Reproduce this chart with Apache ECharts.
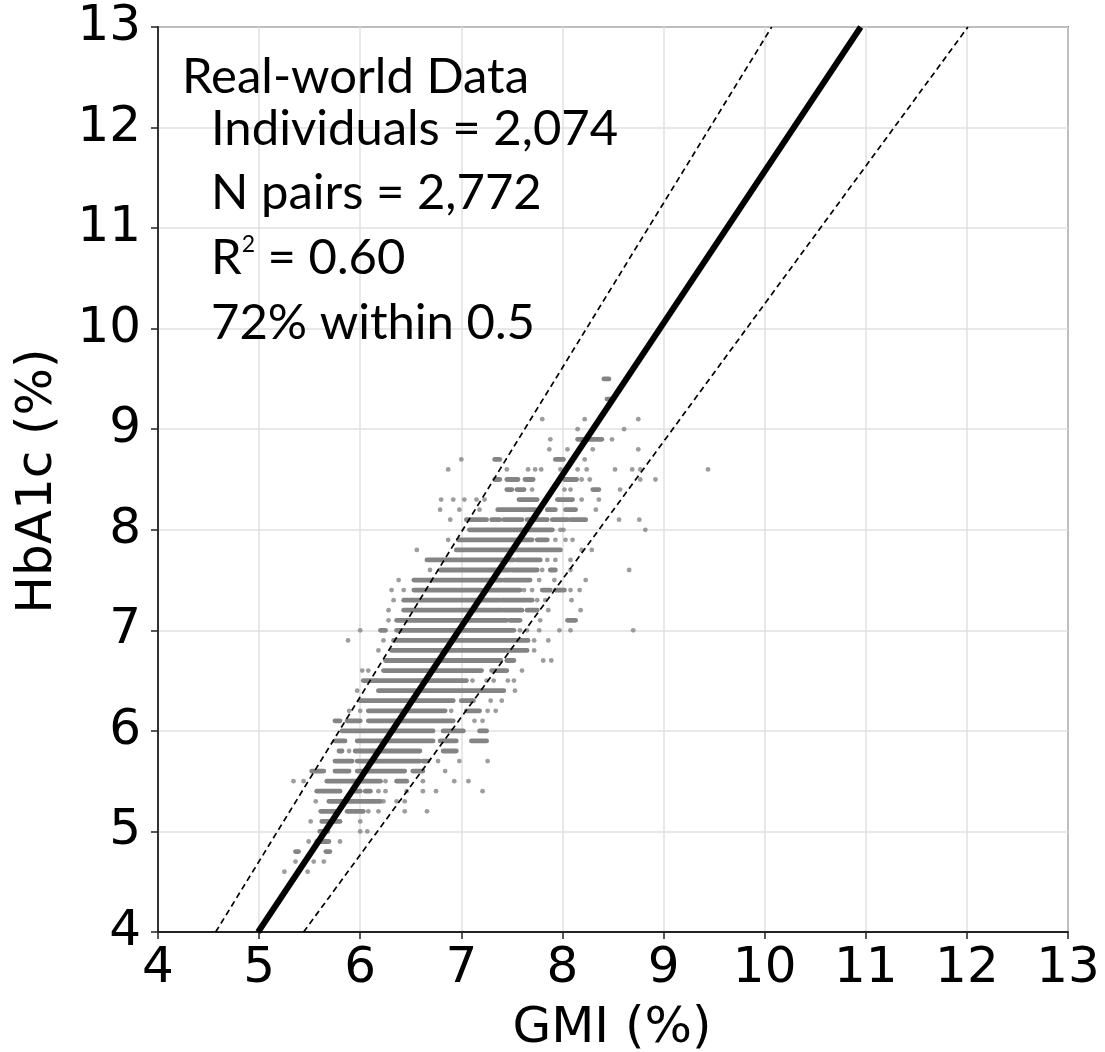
<!DOCTYPE html>
<html>
<head>
<meta charset="utf-8">
<script src="https://cdn.jsdelivr.net/npm/echarts/dist/echarts.min.js"></script>
<style>
html,body{margin:0;padding:0;background:#ffffff;}
#chart{width:1105px;height:1052px;}
</style>
</head>
<body>
<div id="chart"></div>
<script>
// ---------------- DATA ----------------
const xTicks = [4, 5, 6, 7, 8, 9, 10, 11, 12, 13];
const yTicks = [4, 5, 6, 7, 8, 9, 10, 11, 12, 13];

// HbA1c levels (rows of the scatter, reported in 0.1 % steps)
const hba1cRows = [9.5, 9.3, 9.1, 9.0, 8.9, 8.8, 8.7, 8.6, 8.5, 8.4, 8.3, 8.2, 8.1, 8.0,
  7.9, 7.8, 7.7, 7.6, 7.5, 7.4, 7.3, 7.2, 7.1, 7.0, 6.9, 6.8, 6.7, 6.6, 6.5, 6.4, 6.3,
  6.2, 6.1, 6.0, 5.9, 5.8, 5.7, 5.6, 5.5, 5.4, 5.3, 5.2, 5.1, 5.0, 4.9, 4.8, 4.7, 4.6];

// GMI values for each HbA1c row: a number is a single point,
// a pair [from, to] is a dense run of overlapping points
const gmiByRow = [
  [[8.41, 8.46]],
  [[8.44, 8.48]],
  [7.80, 8.22, 8.75],
  [8.15, 8.61],
  [7.88, [8.15, 8.39], 8.49],
  [7.87, 8.05, 8.30, 8.75],
  [7.00, [7.33, 7.38], [7.93, 8.01], 8.22],
  [6.87, 7.45, 7.66, 7.73, 7.79, 7.98, 8.15, 8.24, 8.52, 8.69, 8.77, 9.44],
  [[7.33, 7.38], [7.45, 7.56], [7.63, 7.71], [8.02, 8.14], 8.19, 8.27, 8.77, 8.92],
  [[7.45, 7.50], [7.55, 7.62], 7.70, 8.02, 8.08, [8.30, 8.36], 8.57],
  [6.80, 6.92, 7.03, 7.15, 7.23, [7.57, 7.75], 7.84, [7.95, 8.10], 8.19, 8.36],
  [6.79, 6.98, 7.18, [7.36, 7.74], [7.85, 7.93], [8.03, 8.13], 8.33],
  [6.89, [7.05, 7.25], [7.30, 7.38], [7.42, 7.60], [7.65, 7.85], [7.90, 8.05], [8.08, 8.23], 8.56, 8.76],
  [[7.08, 7.90], 7.98, 8.01, 8.82],
  [6.87, [6.97, 7.55], [7.58, 7.70], [7.75, 7.85], 7.93, 8.03, 8.10],
  [6.56, [6.95, 7.98], 8.19, 8.29],
  [[6.66, 7.52], [7.55, 7.78], 7.85, 7.93, 8.08],
  [6.69, [6.79, 7.48], [7.50, 7.75], 7.80, [7.88, 7.93], 8.08, 8.66],
  [6.38, [6.53, 7.40], [7.42, 7.68], 7.77, 7.92, 8.23],
  [6.31, 6.43, [6.53, 7.20], [7.22, 7.58], 7.62, 7.70, [7.80, 7.88], [7.93, 8.02], 8.08, 8.17],
  [6.33, [6.43, 7.38], [7.40, 7.70], 7.75, 7.83, 8.09],
  [6.28, [6.43, 7.40], [7.42, 7.60], [7.65, 7.75], 7.86, 8.18],
  [6.28, [6.36, 7.45], [7.48, 7.58], 7.78, [8.05, 8.13]],
  [6.00, [6.20, 6.25], [6.36, 7.52], 7.58, 7.65, 7.77, 7.97, 8.08, 8.70],
  [5.88, 6.23, [6.33, 7.66], 7.72, 7.86],
  [6.18, [6.31, 7.65], 7.72],
  [[6.25, 7.39], [7.45, 7.52], 7.81, 7.89],
  [6.02, 6.08, [6.23, 7.20], [7.30, 7.45], 7.60],
  [[6.03, 7.05], 7.11, 7.25, 7.32, 7.46, 7.52],
  [5.97, [6.18, 7.42], 7.53],
  [[6.00, 6.92], [7.00, 7.12], 7.29, 7.40],
  [5.89, 6.00, [6.08, 6.84], 6.90, [7.05, 7.18], 7.26, 7.34],
  [[5.75, 5.80], [5.87, 6.00], [6.08, 6.92], 7.13, 7.21],
  [[5.82, 6.72], [6.82, 7.02], [7.18, 7.25]],
  [[5.75, 5.85], [5.97, 6.72], [6.79, 6.95], [7.10, 7.25]],
  [[5.79, 5.82], 5.89, [5.95, 6.59], [6.82, 6.95]],
  [[5.75, 5.92], [5.97, 6.59], [6.62, 6.67], 6.77, 6.98, 7.26],
  [[5.52, 5.64], [5.75, 5.89], [5.97, 6.44], [6.52, 6.62], 6.84],
  [5.34, 5.44, [5.67, 6.20], 6.25, [6.36, 6.46], 6.62, 6.93, 7.07],
  [[5.57, 5.80], [5.92, 6.00], [6.05, 6.10], 6.18, 6.25, 6.46, 6.62, 6.75, 7.21],
  [5.56, [5.69, 6.20], 6.23, 6.36, 6.44],
  [[5.61, 5.79], [5.87, 6.03], 6.08, 6.18, 6.44, 6.66],
  [5.51, [5.62, 5.80], 6.00],
  [[5.60, 5.68], 6.00, 6.07],
  [5.49, [5.57, 5.69], 5.80],
  [[5.36, 5.39], [5.66, 5.70]],
  [5.36, 5.54, 5.64],
  [5.25, 5.48]
];

// Regression line and limits: [GMI, HbA1c] end points
const fitLine = [[4.99, 4.0], [10.95, 13.0]];
const upperLimit = [[4.57, 4.0], [10.07, 13.0]];
const lowerLimit = [[5.44, 4.0], [12.01, 13.0]];

const annotationTitle = 'Real-world Data';
const annotationStats = ['Individuals = 2,074', 'N pairs = 2,772', 'R2 = 0.60', '72% within 0.5'];
const xAxisTitle = 'GMI (%)';
const yAxisTitle = 'HbA1c (%)';

// ---------------- BUILD ----------------
const singlePoints = [];
const runSegments = [];
hba1cRows.forEach(function (h, i) {
  gmiByRow[i].forEach(function (v) {
    if (Array.isArray(v)) runSegments.push([v[0], v[1], h]);
    else singlePoints.push([v, h]);
  });
});

const dotColor = '#848484';
const tickFont = 'DejaVu Sans';
const noteFont = 'Lato';
const noteSize = 49;

const chart = echarts.init(document.getElementById('chart'), null, {renderer: 'canvas'});

function noteText(x, y, txt) {
  return {type: 'text', x: x, y: y, z: 10,
    style: {text: txt, font: noteSize + 'px ' + noteFont, fill: '#000', align: 'left', verticalAlign: 'middle'}};
}

const option = {
  animation: false,
  backgroundColor: '#ffffff',
  grid: {
    left: 158, top: 27, right: 37, bottom: 120,
    show: true, borderColor: '#222222', borderWidth: 1.5, backgroundColor: 'transparent'
  },
  xAxis: {
    type: 'value', min: xTicks[0], max: xTicks[xTicks.length - 1], interval: 1,
    axisLine: {show: true, onZero: false, lineStyle: {color: '#222222', width: 1.8}},
    axisTick: {show: true, length: 7, lineStyle: {color: '#222222', width: 1.5}},
    axisLabel: {fontFamily: tickFont, fontSize: 50, color: '#000000', margin: 12},
    splitLine: {show: true, lineStyle: {color: '#e0e0e0', width: 1.5}}
  },
  yAxis: {
    type: 'value', min: yTicks[0], max: yTicks[yTicks.length - 1], interval: 1,
    axisLine: {show: true, onZero: false, lineStyle: {color: '#222222', width: 1.8}},
    axisTick: {show: true, length: 7, lineStyle: {color: '#222222', width: 1.5}},
    axisLabel: {fontFamily: tickFont, fontSize: 50, color: '#000000', margin: 17},
    splitLine: {show: true, lineStyle: {color: '#e0e0e0', width: 1.5}}
  },
  series: [
    {
      type: 'scatter', data: singlePoints, symbol: 'circle', symbolSize: 4.8,
      itemStyle: {color: dotColor}, z: 2, silent: true
    },
    {
      type: 'custom', data: runSegments, encode: {x: [0, 1], y: 2}, z: 2, silent: true,
      renderItem: function (params, api) {
        const p1 = api.coord([api.value(0), api.value(2)]);
        const p2 = api.coord([api.value(1), api.value(2)]);
        return {
          type: 'line',
          shape: {x1: p1[0], y1: p1[1], x2: p2[0], y2: p2[1]},
          style: {stroke: dotColor, lineWidth: 4.8, lineCap: 'round', fill: null}
        };
      }
    },
    {
      type: 'line', data: upperLimit, showSymbol: false, symbol: 'none', z: 4, silent: true,
      lineStyle: {color: '#000000', width: 1.7, type: [6, 4]}
    },
    {
      type: 'line', data: lowerLimit, showSymbol: false, symbol: 'none', z: 4, silent: true,
      lineStyle: {color: '#000000', width: 1.7, type: [6, 4]}
    },
    {
      type: 'line', data: fitLine, showSymbol: false, symbol: 'none', z: 5, silent: true,
      lineStyle: {color: '#000000', width: 6}
    }
  ],
  graphic: [
    noteText(182, 77, annotationTitle),
    noteText(211, 129.5, annotationStats[0]),
    noteText(211, 193, annotationStats[1]),
    {type: 'text', x: 211, y: 258, z: 10, style: {
      text: '{b|' + annotationStats[2].charAt(0) + '}{s|' + annotationStats[2].charAt(1) + '}{b|' + annotationStats[2].slice(2) + '}',
      align: 'left', verticalAlign: 'middle',
      rich: {
        b: {fontFamily: noteFont, fontSize: noteSize, lineHeight: 49, fill: '#000', color: '#000'},
        s: {fontFamily: noteFont, fontSize: 23, lineHeight: 38, verticalAlign: 'top', fill: '#000', color: '#000'}
      }
    }},
    noteText(211, 323, annotationStats[3]),
    {type: 'text', x: 612, y: 1029, z: 10, style: {text: xAxisTitle, font: '50px ' + tickFont, fill: '#000', align: 'center', verticalAlign: 'middle'}},
    {type: 'text', x: 38, y: 481, rotation: Math.PI / 2, z: 10, style: {text: yAxisTitle, font: '50px ' + tickFont, fill: '#000', align: 'center', verticalAlign: 'middle'}}
  ]
};

chart.setOption(option);
</script>
</body>
</html>
